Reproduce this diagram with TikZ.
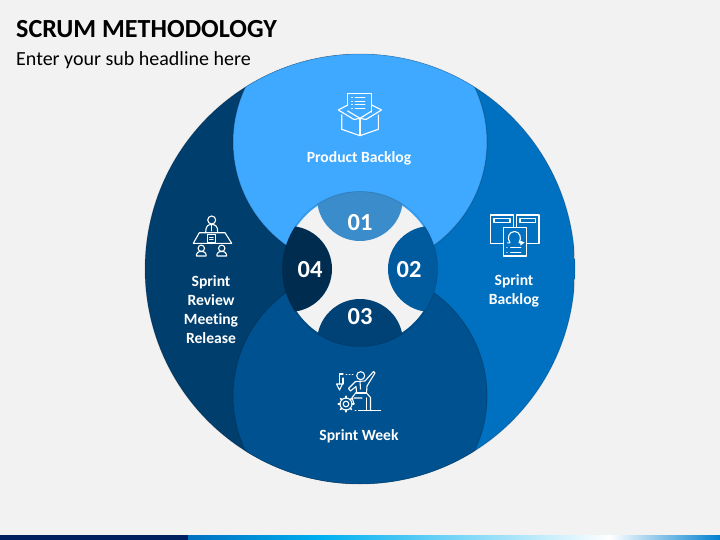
\documentclass[tikz,border=0pt]{standalone}
\usepackage{fontspec}
\setmainfont{Carlito}[Ligatures=NoCommon]
\begin{document}
\begin{tikzpicture}[x=1pt,y=-1pt,
  lbl/.style={font=\fontsize{15.6}{15.6}\selectfont\bfseries,text=white,inner sep=0pt,anchor=center},
  num/.style={font=\fontsize{24.5}{24.5}\selectfont\bfseries,text=white,inner sep=0pt,anchor=center},
  ico/.style={draw=white,line width=1.1pt,line join=round,line cap=round},
  icothin/.style={draw=white,line width=.9pt,line cap=round}]
\definecolor{bg}{HTML}{F2F2F2}
\definecolor{ctop}{HTML}{3FA9FF}
\definecolor{cright}{HTML}{0070C0}
\definecolor{cleft}{HTML}{003E6E}
\definecolor{cbot}{HTML}{00518F}
\definecolor{pa}{HTML}{3A8CCB}
\definecolor{pb}{HTML}{005A9E}
\definecolor{pc}{HTML}{004275}
\definecolor{pd}{HTML}{002C50}
\definecolor{bara}{HTML}{002060}
\definecolor{barb}{HTML}{00B0F0}
\definecolor{barc}{HTML}{0080D0}
\useasboundingbox (0,0) rectangle (720,540);
\fill[bg] (0,0) rectangle (720,540);
% footer bar
\fill[bara] (0,535) rectangle (188,540);
\shade[left color=cright,right color=barb] (188,535) rectangle (322,540);
\shade[left color=barb,right color=white] (321.5,535) rectangle (610,540);
\shade[left color=white,right color=barc] (609.5,535) rectangle (720,540);
% title
\node[inner sep=0pt,anchor=base west,font=\fontsize{26.1}{26.1}\selectfont\bfseries,text=black] (title) at (16,38) {SCRUM METHODOLOGY};
\node[inner sep=0pt,anchor=base west,font=\fontsize{20}{20}\selectfont,text=black] (sub) at (16,66) {Enter your sub headline here};
% main disc
\begin{scope}
  \clip (360,269) circle (215);
  \fill[cleft] (145,50) rectangle (360,490);
  \fill[cright] (360,50) rectangle (575,490);
  \fill[ctop,draw=black,draw opacity=.22,line width=1pt] (360,142) circle (127);
  \fill[cbot,draw=black,draw opacity=.18,line width=1pt] (360,396) circle (127);
\end{scope}
\draw[black,opacity=.18,line width=.8pt] (360,269) circle (215);
% centre
\fill[bg] (360,269) circle (76);
\begin{scope}
  \clip (360,269) circle (77.5);
  \fill[pa] (360,198) circle (43);
  \fill[pb] (431,269) circle (43);
  \fill[pc] (360,342) circle (43);
  \fill[pd] (289,269) circle (43);
\end{scope}
\draw[black,opacity=.15,line width=.8pt] (360,269) circle (77.5);
\node[num] (n1) at (360,222.5) {01};
\node[num] (n2) at (409,269.5) {02};
\node[num] (n3) at (360,316.5) {03};
\node[num] (n4) at (310,269.5) {04};
% labels
\node[lbl] (l1) at (359,158.5) {Product Backlog};
\node[lbl,align=center] (l2) at (514,290.5) {Sprint\\[3.6pt]Backlog};
\node[lbl] (l3) at (359,436.5) {Sprint Week};
\node[lbl,align=center] (l4) at (211,309.5) {Sprint\\[3.6pt]Review\\[3.6pt]Meeting\\[3.6pt]Release};
% icon: box with paper
\draw[ico] (347.7,105) -- (347.7,93.5) -- (371.7,93.5) -- (371.7,112);
\foreach \yy in {97.5,101,104.5,108}{
  \draw[icothin] (351.5,\yy) -- (352.5,\yy);
  \draw[icothin] (355,\yy) -- (365,\yy);
}
\draw[ico] (341.7,115) -- (341.7,129.3) -- (360,135.7) -- (378.3,129.3) -- (378.3,115);
\draw[ico] (360,118.3) -- (360,135.7);
\draw[ico] (347.7,105) -- (338.3,110) -- (354,119.5) -- (360,118.3) -- (366,119.5) -- (381.5,110) -- (371.7,105);
\draw[ico] (347.7,111) -- (360,118.3) -- (371.7,111);
% icon: meeting
\draw[ico] (211.7,220) circle (4);
\draw[ico] (205.7,232) .. controls (205.7,226) and (208,224.5) .. (211.7,224.5) .. controls (215.4,224.5) and (217.7,226) .. (217.7,232);
\draw[icothin] (211.7,225) -- (211.7,231);
\draw[ico] (199.3,232.7) -- (225,232.7) -- (231.7,243.3) -- (193.3,243.3) -- cycle;
\draw[ico,fill=cleft] (207.5,234.3) rectangle (215.2,242.3);
\draw[icothin] (209.5,237) -- (213.2,237) (209.5,239.5) -- (213.2,239.5);
\foreach \xx in {201.3,221.7}{
  \draw[ico] (\xx,248.3) circle (3.2);
  \draw[ico] (\xx-4.8,256) -- (\xx-4.8,254.5) .. controls (\xx-4.8,252.5) and (\xx-2.5,252) .. (\xx-1.5,251.5) -- (\xx+1.5,251.5) .. controls (\xx+2.5,252) and (\xx+4.8,252.5) .. (\xx+4.8,254.5) -- (\xx+4.8,256) -- cycle;
}
% icon: backlog sheets
\draw[ico] (490.7,215) rectangle (513.3,243.3);
\draw[ico] (494,218.5) rectangle (510,222.7);
\draw[ico] (516.7,215) rectangle (539,243.3);
\draw[ico] (520,218.5) rectangle (535.7,222.7);
\draw[ico,fill=cright] (503.3,227.7) rectangle (526.7,256);
\draw[ico] (507.5,242.8) -- (510,242.8) .. controls (506.5,238) and (509,231.5) .. (514.5,231.5) .. controls (520,231.5) and (522,238) .. (519,242.8) -- (523,242.8);
\fill[white] (520,240.5) -- (524.5,242.5) -- (520.5,245.5) -- cycle;
\draw[icothin] (506.7,247.7) -- (507.2,247.7) (510.5,247.7) -- (521,247.7);
\draw[icothin] (506.7,252.5) -- (507.2,252.5) (510.5,252.5) -- (521,252.5);
% icon: sprint week
\draw[ico] (360.7,375.7) circle (4);
\draw[ico] (355.5,381.5) -- (348.5,388.5) -- (350.5,391) -- (356,386.5) -- (356.5,392) -- (352,397.5) -- (354,404) (354,398) -- (362,398);
\draw[ico] (355.5,381.5) -- (365,381) -- (373.5,371.5) -- (375,373) -- (367,386) -- (366.5,393) -- (370.5,397.5) -- (370.5,410.7);
\draw[ico] (366.5,393) -- (356.5,393);
\draw[ico] (366.5,398) -- (366.5,410.7);
\draw[ico] (360,381.5) -- (360.5,389);
\draw[ico] (358.5,410.7) -- (380.7,410.7);
\draw[icothin] (355,410.7) -- (356,410.7);
\draw[ico] (346,404) circle (2.8);
\draw[ico] (346,404) circle (6);
\foreach \a in {0,45,...,315}{
  \draw[ico,line width=1.6pt] (346,404) ++(\a:6) -- ++(\a:1.8);
}
\draw[ico] (343,374) -- (339.5,374) -- (339.5,384);
\draw[ico] (336.5,384) -- (342.5,384) -- (339.5,390) -- cycle;
\draw[ico] (343,378) -- (343,384);
\draw[icothin] (346,374) -- (347,374) (349,374) -- (350,374) (352,374) -- (353,374);
\end{tikzpicture}
\end{document}
